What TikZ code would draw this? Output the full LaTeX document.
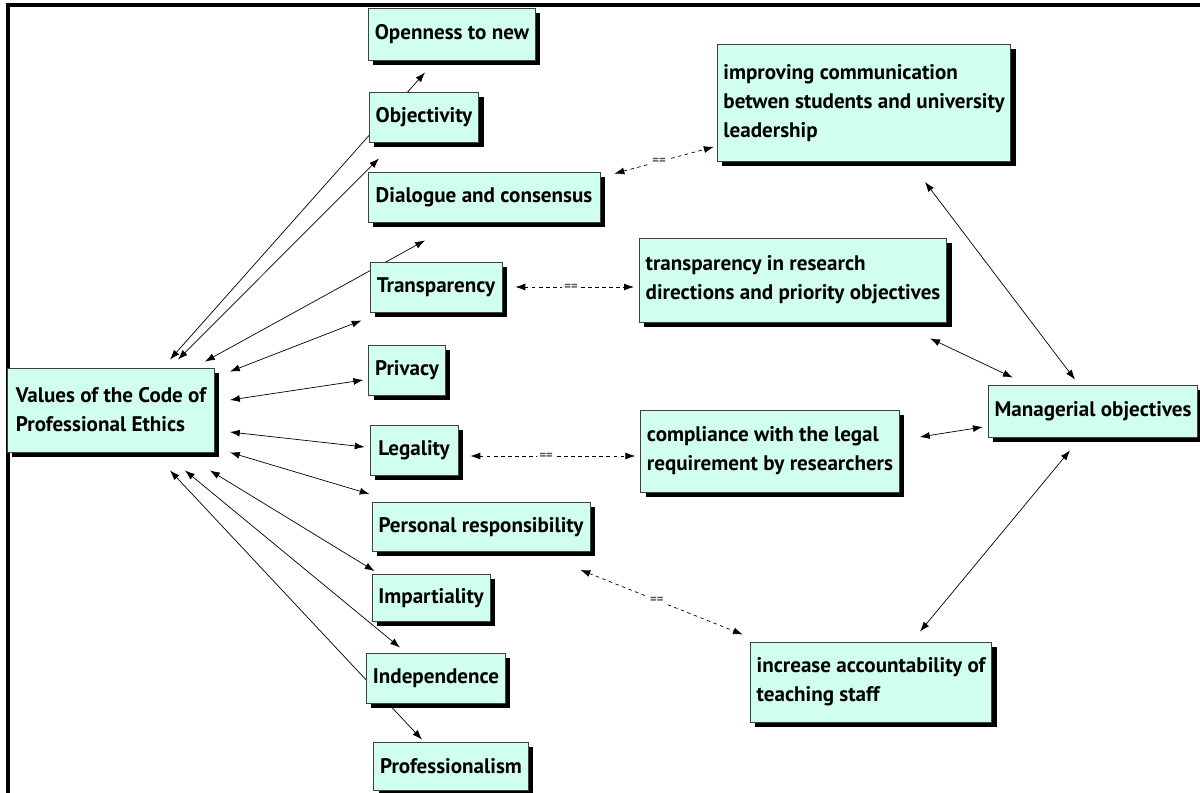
\documentclass[tikz,border=0pt]{standalone}
\usepackage{fontspec}
\newfontfamily\boxfont{PT Sans}
\usetikzlibrary{shadows,backgrounds,calc,arrows.meta}
\definecolor{boxfill}{RGB}{208,255,240}
\definecolor{eqcol}{RGB}{95,80,65}

\begin{document}
\begin{tikzpicture}[x=0.025cm, y=-0.025cm,
    box/.style={draw=black!75, fill=boxfill, line width=0.6pt, inner xsep=4.5pt,
        font=\boxfont\bfseries\fontsize{15}{20.6}\selectfont,
        drop shadow={shadow xshift=3.5pt, shadow yshift=-3.5pt, fill=black, opacity=1}},
    link/.style={{Latex[length=7pt,width=5pt]}-{Latex[length=7pt,width=5pt]}, line width=0.5pt},
    eqlink/.style={link, dash pattern=on 2.5pt off 2.5pt},
    eq/.style={fill=white, inner sep=1.5pt, text=eqcol, font=\boxfont\bfseries\small}]
    \useasboundingbox (0,0) rectangle (1200,793);
    \draw[line width=2.2pt] (8,793) -- (8,5) -- (1200,5);

    % values of the code
    \node[box, align=left, minimum width=5.175cm, minimum height=2.1cm] (val) at (111,410)
        {Values of the Code of\\Professional Ethics};
    \node[box, minimum width=4.125cm, minimum height=1.3cm] (open) at (452,34) {Openness to new};
    \node[box, minimum width=2.7cm, minimum height=1.25cm] (obj) at (424,117) {Objectivity};
    \node[box, minimum width=5.8cm, minimum height=1.25cm] (dial) at (484,197) {Dialogue and consensus};
    \node[box, minimum width=3.3cm, minimum height=1.25cm] (transp) at (436,287) {Transparency};
    \node[box, minimum width=1.85cm, minimum height=1.25cm] (priv) at (407,370) {Privacy};
    \node[box, minimum width=2.2cm, minimum height=1.25cm] (legal) at (414,450) {Legality};
    \node[box, minimum width=5.45cm, minimum height=1.225cm] (pers) at (481,527) {Personal responsibility};
    \node[box, minimum width=2.95cm, minimum height=1.175cm] (impart) at (431,598) {Impartiality};
    \node[box, minimum width=3.325cm, minimum height=1.25cm] (indep) at (436,678) {Independence};
    \node[box, minimum width=3.825cm, minimum height=1.2cm] (prof) at (451,766) {Professionalism};

    % managerial objectives
    \node[box, align=left, minimum width=7.3cm, minimum height=2.925cm] (improv) at (864,103)
        {improving communication\\betwen students and university\\leadership};
    \node[box, align=left, minimum width=7.575cm, minimum height=2.1cm] (research) at (793,280)
        {transparency in research\\directions and priority objectives};
    \node[box, align=left, minimum width=6.25cm, minimum height=2.05cm] (compl) at (770,451)
        {compliance with the legal\\requirement by researchers};
    \node[box, minimum width=5.1cm, minimum height=1.3cm] (manag) at (1093,411) {Managerial objectives};
    \node[box, align=left, minimum width=5.95cm, minimum height=2cm] (account) at (871,682)
        {increase accountability of\\teaching staff};

    \begin{scope}[on background layer]
    \draw[link] ($(val.north)+(59,-8)$) -- ($(open.south)+(-27,12)$);
    \draw[link] ($(val.north)+(67,-8)$) -- ($(obj.south west)+(10,16)$);
    \draw[link] ($(val.north east)+(-10,-6)$) -- ($(dial.south)+(-59,18)$);
    \draw[link] ($(val.north east)+(15,4)$) -- ($(transp.south west)+(-8,8)$);
    \draw[link] ($(val.east)+(15,-10)$) -- ($(priv.west)+(-5,10)$);
    \draw[link] ($(val.east)+(15,22)$) -- ($(legal.west)+(-5,-3)$);
    \draw[link] ($(val.south east)+(15,0)$) -- ($(pers.north west)+(-2,-8)$);
    \draw[link] ($(val.south east)+(-5,18)$) -- ($(impart.north west)+(3,-3)$);
    \draw[link] ($(val.south)+(74,18)$) -- ($(indep.north)+(-36,-5)$);
    \draw[link] ($(val.south)+(59,18)$) -- ($(prof.north)+(-29,-2)$);

    \draw[eqlink] ($(dial.north east)+(14,2)$) -- node[eq, pos=0.45] {==} ($(improv.south west)+(-3,-15)$);
    \draw[eqlink] ($(transp.east)+(13,0)$) -- node[eq, pos=0.47] {==} ($(research.west)+(-5,7)$);
    \draw[eqlink] ($(legal.east)+(12,6)$) -- node[eq, pos=0.46] {==} ($(compl.west)+(-5,5)$);
    \draw[eqlink] ($(pers.south east)+(-10,18)$) -- node[eq, pos=0.47] {==} ($(account.north west)+(-7,-7)$);

    \draw[link] ($(improv.south)+(61,20)$) -- ($(manag.north)+(-18,-5)$);
    \draw[link] ($(research.south east)+(-17,16)$) -- ($(manag.north west)+(25,-7)$);
    \draw[link] ($(compl.east)+(20,-14)$) -- ($(manag.west)+(-5,16)$);
    \draw[link] ($(account.north)+(49,-10)$) -- ($(manag.south)+(-23,13)$);
    \end{scope}
\end{tikzpicture}
\end{document}
